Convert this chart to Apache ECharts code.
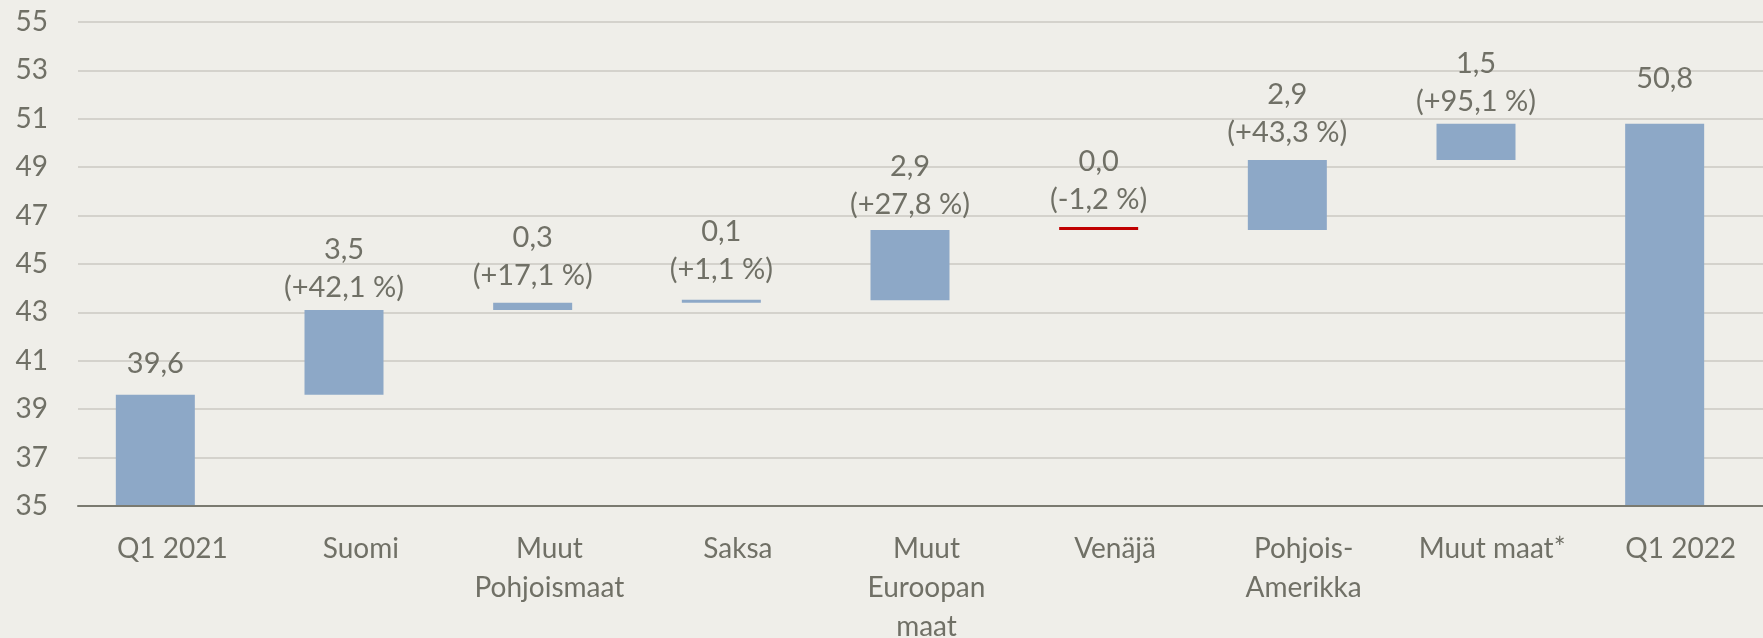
<!DOCTYPE html>
<html>
<head>
<meta charset="utf-8">
<script src="https://cdn.jsdelivr.net/npm/echarts@6/dist/echarts.min.js"></script>
<style>
  html, body { margin: 0; padding: 0; background: #efeee9; }
  #chart { width: 1763px; height: 638px; }
</style>
</head>
<body>
<div id="chart"></div>
<script>
// kategoriat ja arvot (vesiputouskaavio, mrd)
const categories = ["Q1 2021", "Suomi", "Muut\nPohjoismaat", "Saksa", "Muut\nEuroopan\nmaat", "Venäjä", "Pohjois-\nAmerikka", "Muut maat*", "Q1 2022"];
const baseValues = [0, 39.6, 43.1, 43.4, 43.5, 46.4, 46.4, 49.3, 0];
const changeValues = [39.6, 3.5, 0.3, 0.1, 2.9, 0.0, 2.9, 1.5, 50.8];
const changePct = ["", "+42,1 %", "+17,1 %", "+1,1 %", "+27,8 %", "-1,2 %", "+43,3 %", "+95,1 %", ""];
const isTotal = [true, false, false, false, false, false, false, false, true];
const yMin = 35;
const yMax = 55;
const yStep = 2;

// label gap above each bar (layout only)
const labelGap = [12, 3, 8, 11, 6, 8, 8, 3, 26];

const TEXT = "#707066";
const BAR = "#8da8c7";
const FONT = "Lato";

const fmt = (v) => v.toFixed(1).replace(".", ",");

const chart = echarts.init(document.getElementById("chart"));

chart.setOption({
  animation: false,
  backgroundColor: "#efeee9",
  textStyle: { fontFamily: FONT },
  // grid 0: gridlines, axis line, labels; grid 1: bars (Excel draws them shifted left)
  grid: [
    { left: 78, right: -12, top: 22, bottom: 132, outerBoundsMode: "none" },
    { left: 61, right: 4, top: 22, bottom: 132, outerBoundsMode: "none" },
  ],
  xAxis: [
    {
      type: "category",
      gridIndex: 0,
      data: categories,
      axisLine: { lineStyle: { color: "#7a7a70", width: 2 } },
      axisTick: { show: false },
      axisLabel: {
        color: TEXT,
        fontFamily: FONT,
        fontSize: 28,
        lineHeight: 39,
        margin: 23,
        interval: 0,
      },
      z: 5,
    },
    {
      type: "category",
      gridIndex: 1,
      data: categories,
      show: false,
    },
  ],
  yAxis: [
    {
      type: "value",
      gridIndex: 0,
      min: yMin,
      max: yMax,
      interval: yStep,
      axisLine: { show: false },
      axisTick: { show: false },
      splitLine: { lineStyle: { color: "#d4d2cc", width: 2 } },
      axisLabel: { color: TEXT, fontFamily: FONT, fontSize: 28, margin: 30 },
    },
    {
      type: "value",
      gridIndex: 1,
      min: yMin,
      max: yMax,
      interval: yStep,
      show: false,
      splitLine: { show: false },
    },
  ],
  series: [
    {
      type: "bar",
      name: "base",
      xAxisIndex: 1,
      yAxisIndex: 1,
      stack: "wf",
      silent: true,
      barWidth: 79,
      itemStyle: { color: "transparent" },
      data: baseValues,
    },
    {
      type: "bar",
      name: "muutos",
      xAxisIndex: 1,
      yAxisIndex: 1,
      stack: "wf",
      barWidth: 79,
      barMinHeight: 3,
      itemStyle: { color: BAR },
      data: changeValues.map((v, i) => ({
        value: v,
        itemStyle: changePct[i].startsWith("-") ? { color: "#c00000" } : undefined,
        label: { distance: labelGap[i] },
      })),
      label: {
        show: true,
        position: "top",
        color: TEXT,
        fontFamily: FONT,
        fontSize: 29,
        lineHeight: 38,
        formatter: (p) =>
          isTotal[p.dataIndex]
            ? fmt(p.value)
            : fmt(p.value) + "\n(" + changePct[p.dataIndex] + ")",
      },
    },
  ],
});
</script>
</body>
</html>
